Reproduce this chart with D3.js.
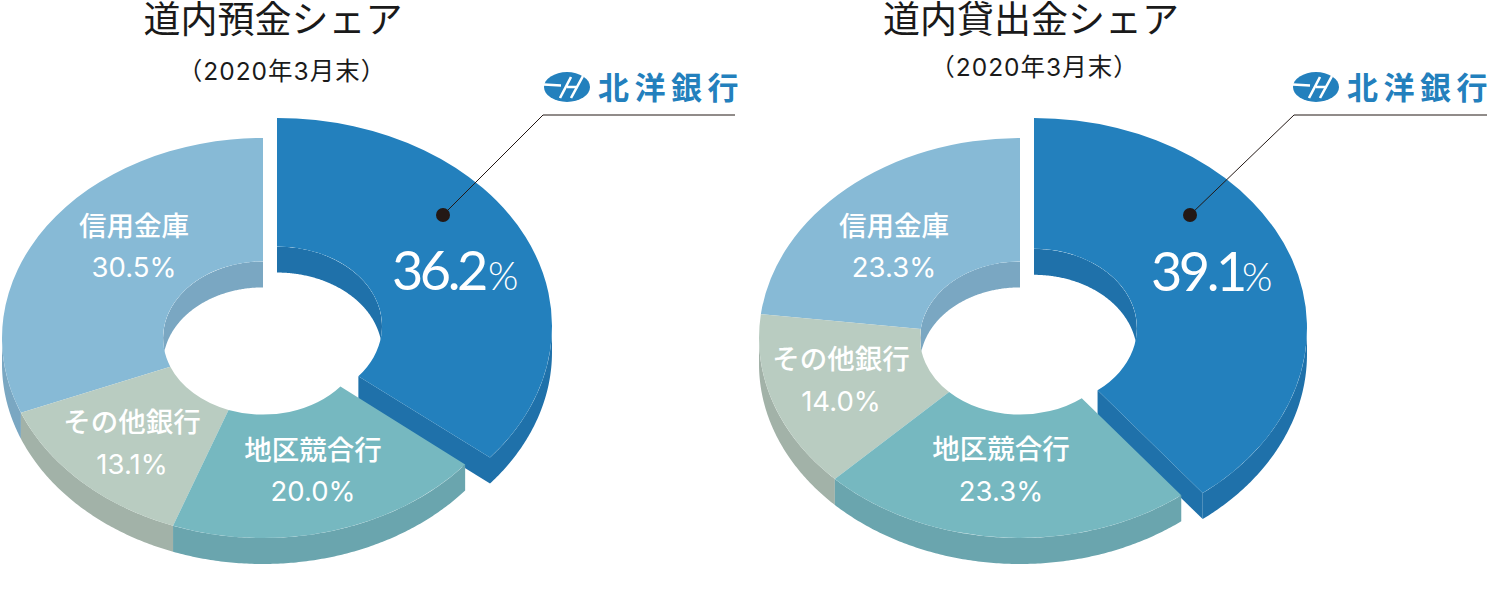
<!DOCTYPE html>
<html><head><meta charset="utf-8">
<script src="https://cdn.jsdelivr.net/npm/d3@7"></script>
<style>
html,body{margin:0;padding:0;background:#fff}
svg{display:block;font-family:"Noto Sans CJK JP","Noto Sans",sans-serif}
</style></head><body>
<svg id="c" width="1487" height="616"></svg>
<script>
// ---- data ----
const categories = ["北洋銀行", "地区競合行", "その他銀行", "信用金庫"];
// printed percentages, as labelled in the picture
const depositValues = [36.2, 20.0, 13.1, 30.5];
const loanValues = [39.1, 23.3, 14.0, 23.3];
// slice sizes as actually drawn in the picture (measured from the slice angles;
// the original illustration does not follow its printed figures exactly)
const depositDrawnShares = [35.9, 19.7, 13.3, 31.1];
const loanDrawnShares = [39.4, 23.15, 14.35, 23.1];
const titles = ["道内預金シェア", "道内貸出金シェア"];
const subtitle = "（2020年3月末）";
const brandName = "北洋銀行";

// ---- styles ----
const faceColors = ["#2380bd", "#76b8c0", "#b9ccc1", "#87bad6"];
const wallColors = ["#1f71aa", "#6aa5ae", "#a2b2a8", "#7aa7c2"];
const DEPTH = 26;
const TAU = Math.PI * 2;

// ---- layouts ----
const layouts = [
  { values: depositValues, shares: depositDrawnShares, title: titles[0], titleX: 273, subX: 282, subY: 70,
    rest: {cx: 263, cy: 338, rx: 261, ry: 200, ratio: 0.383},
    lead: {cx: 277, cy: 326, rx: 275, ry: 208, ratio: 0.382},
    labels: [null, [313, 450, 491], [132, 422, 464], [134, 226, 267]],
    big: {x: 392, y: 290, pctX: 488}, leader: [[443, 215], [543, 115], [735, 115]],
    logoX: 567, brandX: 598 },
  { values: loanValues, shares: loanDrawnShares, title: titles[1], titleX: 1031, subX: 1034.5, subY: 66,
    rest: {cx: 1020, cy: 338, rx: 261, ry: 200, ratio: 0.383},
    lead: {cx: 1034, cy: 328, rx: 273, ry: 210, ratio: 0.377},
    labels: [null, [1001, 449, 491], [841, 359, 401], [894, 226, 267]],
    big: {x: 1151, y: 291, pctX: 1242}, leader: [[1190, 215], [1294, 115], [1487, 115]],
    logoX: 1316, brandX: 1347 }
];

const svg = d3.select("#c");
const pie = d3.pie().sort(null).value(d => d);

function ptX(g, r, t) { return g.cx + g.rx * r * Math.sin(t); }
function ptY(g, r, t) { return g.cy - g.ry * r * Math.cos(t); }

function angleSteps(a, b) {
  const n = Math.max(2, Math.ceil((b - a) / 0.01));
  return d3.range(n + 1).map(i => a + (b - a) * i / n);
}
function wallArea(g, r) {
  return d3.area()
    .x(t => ptX(g, r, t))
    .y0(t => ptY(g, r, t))
    .y1(t => ptY(g, r, t) + DEPTH);
}

function drawSlice(root, g, arcDatum, i, clipId) {
  const a = arcDatum.startAngle, b = arcDatum.endAngle;
  const layer = root.append("g").attr("class", "slice");

  // inner wall, visible through the hole on the rear half
  const rearRanges = [[0, TAU / 4], [3 * TAU / 4, TAU]];
  rearRanges.forEach(([lo, hi]) => {
    const s = Math.max(a, lo), e = Math.min(b, hi);
    if (e > s) layer.append("path")
      .attr("clip-path", `url(#${clipId})`)
      .attr("d", wallArea(g, g.ratio)(angleSteps(s, e)))
      .attr("fill", wallColors[i]);
  });

  // outer wall, on the front half
  const s = Math.max(a, TAU / 4), e = Math.min(b, 3 * TAU / 4);
  if (e > s) layer.append("path")
    .attr("d", wallArea(g, 1)(angleSteps(s, e)))
    .attr("fill", wallColors[i]);

  // cut face of the pulled-out slice
  if (i === 0) {
    const cut = d3.area()
      .x(r => ptX(g, r, b))
      .y0(r => ptY(g, r, b))
      .y1(r => ptY(g, r, b) + DEPTH);
    layer.append("path").attr("d", cut([g.ratio, 1])).attr("fill", wallColors[i]);
  }

  // top face
  const arc = d3.arc().innerRadius(g.rx * g.ratio).outerRadius(g.rx);
  layer.append("path")
    .attr("transform", `translate(${g.cx},${g.cy}) scale(1,${g.ry / g.rx})`)
    .attr("d", arc({startAngle: a, endAngle: b}))
    .attr("fill", faceColors[i]);
}

function holeClip(defs, g, id) {
  defs.append("clipPath").attr("id", id).append("path")
    .attr("transform", `translate(${g.cx},${g.cy}) scale(1,${g.ry / g.rx})`)
    .attr("d", d3.arc().innerRadius(0).outerRadius(g.rx * g.ratio)({startAngle: 0, endAngle: TAU}));
}

const defs = svg.append("defs");
const mixedFont = 'Inter,"Noto Sans CJK JP",sans-serif';

layouts.forEach((L, k) => {
  const root = svg.append("g");
  holeClip(defs, L.lead, `lead${k}`);
  holeClip(defs, L.rest, `rest${k}`);

  const arcs = pie(L.shares);
  drawSlice(root, L.lead, arcs[0], 0, `lead${k}`);
  [3, 2, 1].forEach(i => drawSlice(root, L.rest, arcs[i], i, `rest${k}`));

  // titles
  root.append("text").attr("x", L.titleX).attr("y", 33)
    .attr("text-anchor", "middle").attr("font-size", 37).attr("fill", "#1a1a1a")
    .text(L.title);
  root.append("text").attr("x", L.subX).attr("y", L.subY + 9.5)
    .attr("text-anchor", "middle").attr("font-size", 24.5).attr("letter-spacing", 1).attr("fill", "#1a1a1a")
    .attr("font-family", mixedFont)
    .text(subtitle);

  // category labels
  L.labels.forEach((p, i) => {
    if (!p) return;
    root.append("text").attr("x", p[0]).attr("y", p[1] + 10)
      .attr("text-anchor", "middle").attr("font-size", 27.5).attr("font-weight", 500)
      .attr("fill", "#fff").text(categories[i]);
    root.append("text").attr("x", p[0]).attr("y", p[2] + 10)
      .attr("text-anchor", "middle").attr("font-size", 27.5).attr("fill", "#fff")
      .attr("font-family", "Inter")
      .text(d3.format(".1f")(L.values[i]) + "%");
  });

  // headline number
  root.append("text").attr("x", L.big.x).attr("y", L.big.y)
    .attr("font-family", "Lato").attr("font-weight", 400)
    .attr("font-size", 54).attr("letter-spacing", -3.5).attr("fill", "#fff")
    .text(d3.format(".1f")(L.values[0]));
  root.append("text").attr("x", L.big.pctX).attr("y", L.big.y)
    .attr("font-family", "Lato").attr("font-weight", 300)
    .attr("font-size", 39).attr("fill", "#fff").text("%");

  // leader
  root.append("path").attr("d", d3.line()(L.leader))
    .attr("fill", "none").attr("stroke", "#231815").attr("stroke-width", 1);
  root.append("circle").attr("cx", L.leader[0][0]).attr("cy", L.leader[0][1])
    .attr("r", 7).attr("fill", "#231815");

  // brand
  const logo = root.append("g").attr("transform", `translate(${L.logoX},87)`);
  logo.append("ellipse").attr("rx", 23).attr("ry", 15).attr("fill", "#2380bd");
  logo.append("path").attr("d", "M-23,-2.5L-6,-1.5M-7,11L4,-10M4,11L16,-11M0,0H11")
    .attr("stroke", "#fff").attr("stroke-width", 2.6).attr("fill", "none");
  const brand = root.append("text").attr("x", L.brandX).attr("y", 99)
    .attr("font-size", 31).attr("font-weight", 700)
    .attr("fill", "#2380bd");
  brand.append("tspan").attr("letter-spacing", 5.5).text(brandName.slice(0, -1));
  brand.append("tspan").text(brandName.slice(-1));
});
</script>
</body></html>
